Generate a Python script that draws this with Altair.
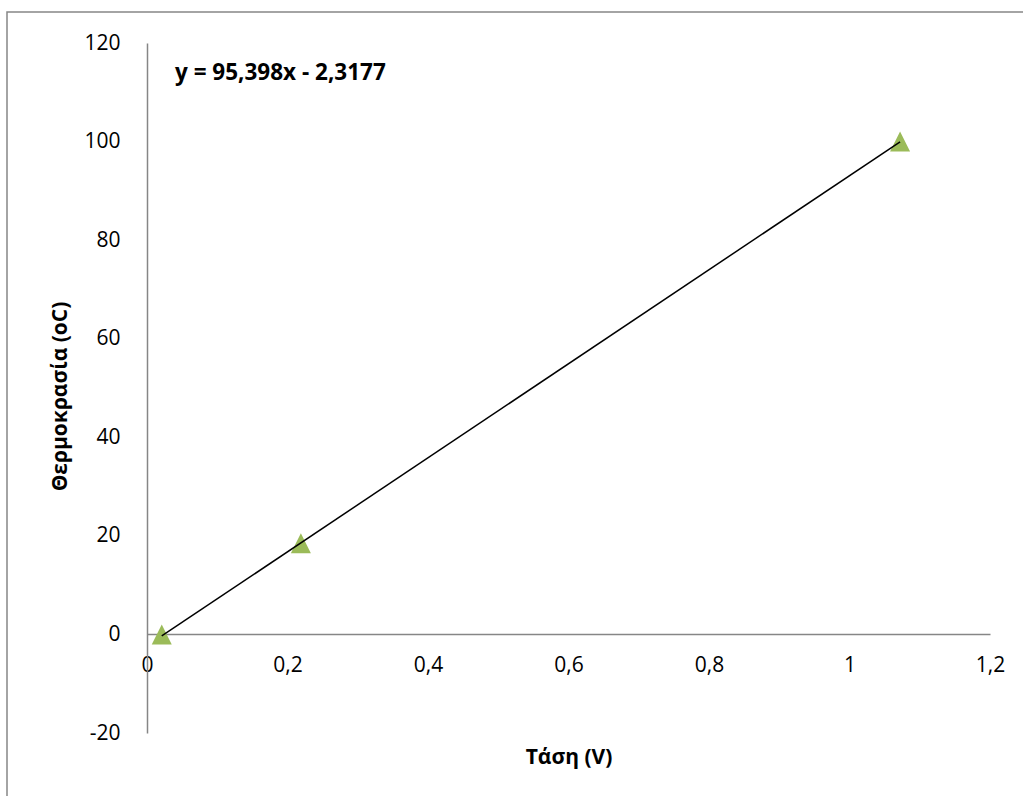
import altair as alt
import pandas as pd

# Measured points: thermocouple voltage (V) vs temperature (°C)
volts = [0.021, 0.219, 1.072]
temps = [0.0, 18.5, 100.0]

# Linear trendline coefficients
slope = 95.398
intercept = -2.3177

x_ticks = [0, 0.2, 0.4, 0.6, 0.8, 1, 1.2]
y_ticks = [-20, 0, 20, 40, 60, 80, 100, 120]

FONT = "Open Sans"
GREY = "#868686"

points = pd.DataFrame({"v": volts, "t": temps})
x_lo, x_hi = min(volts), max(volts)
trend = pd.DataFrame({"v": [x_lo, x_hi],
                      "t": [slope * x_lo + intercept, slope * x_hi + intercept]})

eq_text = "y = {}x - {}".format(str(slope).replace(".", ","),
                                 str(abs(intercept)).replace(".", ","))

label_expr = "replace(toString(datum.value), '.', ',')"

x_scale = alt.Scale(domain=[0, 1.2], nice=False, zero=False)
y_scale = alt.Scale(domain=[-20, 120], nice=False, zero=False)

x_enc = alt.X("v:Q", scale=x_scale, axis=alt.Axis(
    values=x_ticks, labelExpr=label_expr, title="Τάση (V)",
    offset=-99, grid=False, ticks=False, domainColor=GREY, domainWidth=1.5,
    labelFont=FONT, labelFontSize=21, labelColor="#000000", labelPadding=20,
    labelFlush=False, labelOverlap=False,
    titleFont=FONT, titleFontSize=21, titleFontWeight="bold", titleColor="#000000",
    titleY=123, titleBaseline="middle"))
y_enc = alt.Y("t:Q", scale=y_scale, axis=alt.Axis(
    values=y_ticks, labelExpr=label_expr, title="Θερμοκρασία (oC)",
    grid=False, ticks=False, domainColor=GREY, domainWidth=1.5,
    labelFont=FONT, labelFontSize=21, labelColor="#000000", labelPadding=27,
    labelFlush=False, labelOverlap=False, labelBaseline="middle",
    titleFont=FONT, titleFontSize=21, titleFontWeight="bold", titleColor="#000000",
    titleX=-87, titleY=353, titleAngle=270, titleBaseline="middle"))

frame = alt.Chart(pd.DataFrame({"k": [0]})).mark_rect(
    filled=False, stroke=GREY, strokeWidth=1.5
).encode(x=alt.value(-140), x2=alt.value(900), y=alt.value(-31), y2=alt.value(800))

markers = alt.Chart(points).mark_point(
    shape="M0,-1L1,1L-1,1Z", filled=True, size=400, color="#9BBB59", opacity=1
).encode(x=x_enc, y=y_enc)

line = alt.Chart(trend).mark_line(color="#000000", strokeWidth=1.5).encode(
    x=alt.X("v:Q", scale=x_scale), y=alt.Y("t:Q", scale=y_scale))

equation = alt.Chart(pd.DataFrame({"label": [eq_text]})).mark_text(
    font=FONT, fontSize=22.5, fontWeight="bold", align="left", baseline="middle",
    color="#000000"
).encode(x=alt.value(28), y=alt.value(30), text="label:N")

chart = alt.layer(frame, markers, line, equation).properties(
    width=843, height=690,
    background="white",
    autosize=alt.AutoSizeParams(type="none"),
    padding={"left": 147, "top": 43, "right": 33, "bottom": 63},
).configure_view(stroke=None, strokeWidth=0)

chart.save("out.html", embed_options={"renderer": "svg", "actions": False})
